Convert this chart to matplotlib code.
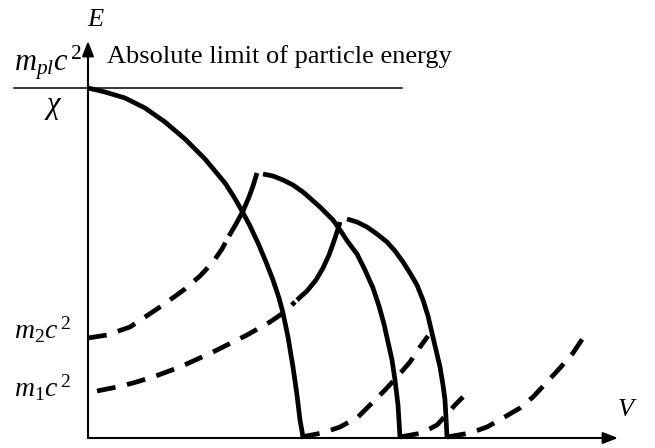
import matplotlib
matplotlib.use('Agg')
import matplotlib.pyplot as plt

plt.rcParams['font.family'] = 'Liberation Serif'
plt.rcParams['mathtext.fontset'] = 'custom'
plt.rcParams['mathtext.rm'] = 'Liberation Serif'
plt.rcParams['mathtext.it'] = 'Liberation Serif:italic'

# curves, in picture units (x right, y down)
fall1_x = [88, 105, 125, 145, 165, 185, 205, 225, 234, 242, 250, 258, 266, 273, 279, 283, 288, 293, 297, 300, 303]
fall1_y = [88, 92, 98, 108, 122, 139, 159, 183, 197, 211, 226, 243, 262, 280, 298, 313, 337, 367, 395, 420, 437]

fall2_x = [263, 273, 283, 293, 303, 320, 333, 340, 348, 357, 365, 373, 379, 384, 388, 392, 395, 398, 400]
fall2_y = [174, 176, 180, 185, 192, 207, 220, 230, 242, 254, 270, 288, 306, 324, 342, 360, 380, 405, 437]

fall3_x = [347, 357, 367, 377, 387, 395, 403, 410, 417, 423, 428, 432, 436, 440, 443, 445, 446, 447]
fall3_y = [219, 222, 227, 234, 242, 251, 262, 273, 285, 300, 316, 333, 350, 367, 385, 400, 418, 437]

rise2_dash_x = [88, 107, 130, 163, 185, 200, 213, 222, 229]
rise2_dash_y = [338, 335, 327, 305, 289, 276, 262, 249, 236]
rise2_solid_x = [229, 236, 243, 249, 253, 257]
rise2_solid_y = [236, 224, 211, 197, 186, 173]

rise1_dash_x = [97, 117, 133, 153, 180, 213, 247, 270, 283, 295]
rise1_dash_y = [391, 387, 383, 377, 367, 352, 335, 322, 313, 302]
rise1_solid_x = [297, 307, 316, 323, 329, 334, 338, 340]
rise1_solid_y = [300, 291, 280, 268, 255, 241, 229, 222]

tail1_x = [301, 322, 340, 358, 370, 385, 397, 410, 420, 428]
tail1_y = [437, 433, 427, 417, 405, 390, 377, 362, 347, 336]
tail2_x = [400, 422, 437, 448, 455, 463]
tail2_y = [437, 433, 425, 413, 405, 397]
tail3_x = [447, 470, 487, 503, 520, 533, 547, 560, 573, 583]
tail3_y = [437, 433, 427, 418, 408, 397, 382, 368, 353, 338]

axis_origin = (88, 438)
limit_y = 88

fig = plt.figure(figsize=(6.55, 4.48), dpi=100)
ax = fig.add_axes([0, 0, 1, 1])
ax.set_xlim(0, 655)
ax.set_ylim(448, 0)
ax.axis('off')

lw = 3.4
dash = (0, (4.0, 2.5))
solid_kw = dict(color='black', lw=lw, solid_capstyle='butt', solid_joinstyle='round')
dash_kw = dict(color='black', lw=lw, linestyle=dash, dash_capstyle='butt', dash_joinstyle='round')

for xs, ys in [(fall1_x, fall1_y), (fall2_x, fall2_y), (fall3_x, fall3_y),
               (rise2_solid_x, rise2_solid_y), (rise1_solid_x, rise1_solid_y)]:
    ax.plot(xs, ys, **solid_kw)

for xs, ys in [(rise2_dash_x, rise2_dash_y), (rise1_dash_x, rise1_dash_y),
               (tail1_x, tail1_y), (tail2_x, tail2_y), (tail3_x, tail3_y)]:
    ax.plot(xs, ys, **dash_kw)

# axes with arrows
arrow = dict(arrowstyle='-|>,head_length=0.9,head_width=0.35', color='black', lw=1.5,
             shrinkA=0, shrinkB=0)
ax.annotate('', xy=(88, 41), xytext=axis_origin, arrowprops=arrow)
ax.annotate('', xy=(618, 438), xytext=axis_origin, arrowprops=arrow)

# absolute energy limit
ax.plot([14, 402], [limit_y, limit_y], color='black', lw=1.1)

ax.text(96, 20, r'$E$', fontsize=19, ha='center', va='center')
ax.text(627, 410, r'$V$', fontsize=19, ha='center', va='center')
ax.text(14, 63, r'$m_{pl}c^{\,2}$', fontsize=22, ha='left', va='center')
ax.text(53, 107, r'$\chi$', fontsize=22, ha='center', va='center')
ax.text(14, 330, r'$m_2c^{\,2}$', fontsize=20, ha='left', va='center')
ax.text(14, 388, r'$m_1c^{\,2}$', fontsize=20, ha='left', va='center')
ax.text(107, 57, 'Absolute limit of particle energy', fontsize=19, ha='left', va='center')

fig.savefig('out.png', dpi=100)
